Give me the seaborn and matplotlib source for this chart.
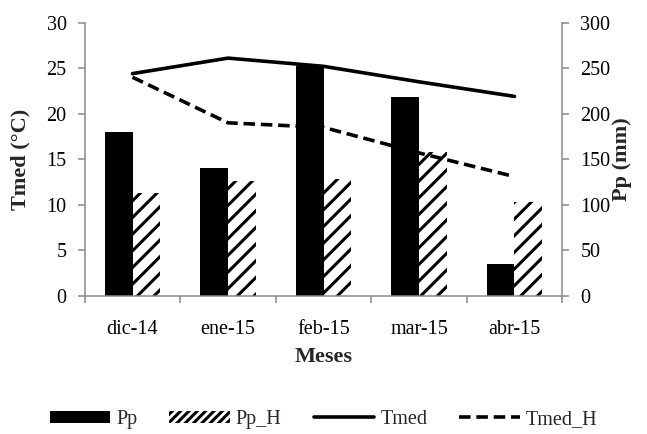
import numpy as np
import pandas as pd
import matplotlib
matplotlib.use("Agg")
import matplotlib.pyplot as plt
import seaborn as sns
from matplotlib.patches import Patch
from matplotlib.lines import Line2D
from matplotlib.ticker import FixedLocator, MultipleLocator

# ---- data ----
meses = ["dic-14", "ene-15", "feb-15", "mar-15", "abr-15"]
pp = [180, 140, 252, 218, 35]
pp_h = [113, 126, 128, 158, 103]
tmed = [24.4, 26.1, 25.2, 23.5, 21.9]
tmed_h = [24.0, 19.0, 18.5, 15.7, 13.1]

sns.set_theme(style="white")
plt.rcParams["font.family"] = ["Liberation Serif", "DejaVu Serif"]
plt.rcParams["hatch.linewidth"] = 2.2

GRAY = "#8a8a8a"
FS = 14.5

fig = plt.figure(figsize=(6.47, 4.34), dpi=100)
ax = fig.add_axes([0.131, 0.318, 0.738, 0.630])

dfb = pd.DataFrame({
    "Mes": meses * 2,
    "mm": pp + pp_h,
    "Serie": ["Pp"] * len(meses) + ["Pp_H"] * len(meses),
})
sns.barplot(data=dfb, x="Mes", y="mm", hue="Serie", order=meses,
            palette={"Pp": "black", "Pp_H": "white"}, width=0.58,
            saturation=1, legend=False, ax=ax)
for bar in ax.containers[0]:
    bar.set_linewidth(0)
for bar in ax.containers[1]:
    bar.set_hatch("//")
    bar.set_edgecolor("black")
    bar.set_linewidth(0)

ax2 = ax.twinx()
sns.lineplot(x=meses, y=tmed, ax=ax2, color="black", linewidth=2.6, sort=False)
sns.lineplot(x=meses, y=tmed_h, ax=ax2, color="black", linewidth=2.6, sort=False,
             linestyle=(0, (3.2, 1.6)))

# axes: bars on right scale (mm), lines on left scale (°C)
ax.set_ylim(0, 300)
ax2.set_ylim(0, 30)
ax.set_xlim(-0.5, len(meses) - 0.5)
ax.yaxis.set_major_locator(MultipleLocator(50))
ax2.yaxis.set_major_locator(MultipleLocator(5))
ax.yaxis.tick_right()
ax.yaxis.set_label_position("right")
ax2.yaxis.tick_left()
ax2.yaxis.set_label_position("left")

for s in ["top", "left"]:
    ax.spines[s].set_visible(False)
for s in ["top", "right", "bottom"]:
    ax2.spines[s].set_visible(False)
for s in ["right", "bottom"]:
    ax.spines[s].set_color(GRAY)
    ax.spines[s].set_linewidth(1.1)
ax2.spines["left"].set_color(GRAY)
ax2.spines["left"].set_linewidth(1.1)

ax.set_xticks(range(len(meses)))
ax.set_xticklabels(meses)
ax.xaxis.set_minor_locator(FixedLocator(np.arange(-0.5, len(meses), 1.0)))
ax.tick_params(axis="x", which="major", length=0, pad=17, labelsize=FS, colors="black")
ax.tick_params(axis="x", which="minor", length=5, width=1.1, color=GRAY, direction="out", bottom=True)
ax.tick_params(axis="y", which="major", length=5, width=1.1, color=GRAY, direction="out",
               right=True, pad=8, labelsize=FS, labelcolor="black")
ax2.tick_params(axis="y", which="major", length=5, width=1.1, color=GRAY, direction="out",
                left=True, pad=8, labelsize=FS, labelcolor="black")

ax.set_xlabel("Meses", fontsize=16, fontweight="bold")
ax.xaxis.set_label_coords(0.5, -0.187)
ax.set_ylabel("Pp (mm)", fontsize=16, fontweight="bold")
ax.yaxis.set_label_coords(1.105, 0.5)
ax2.set_ylabel("Tmed (°C)", fontsize=16, fontweight="bold")
ax2.yaxis.set_label_coords(-0.113, 0.5)

handles = [
    Patch(facecolor="black", edgecolor="black", linewidth=0),
    Patch(facecolor="white", edgecolor="black", hatch="////", linewidth=0),
    Line2D([0], [0], color="black", linewidth=2.6),
    Line2D([0], [0], color="black", linewidth=2.6, linestyle=(0, (3.2, 1.6))),
]
fig.legend(handles, ["Pp", "Pp_H", "Tmed", "Tmed_H"], loc="center",
           bbox_to_anchor=(0.5, 0.033), ncol=4, frameon=False, fontsize=FS,
           handlelength=3.0, handletextpad=0.3, columnspacing=1.6, handleheight=0.6)

fig.savefig("out.png", dpi=100)
